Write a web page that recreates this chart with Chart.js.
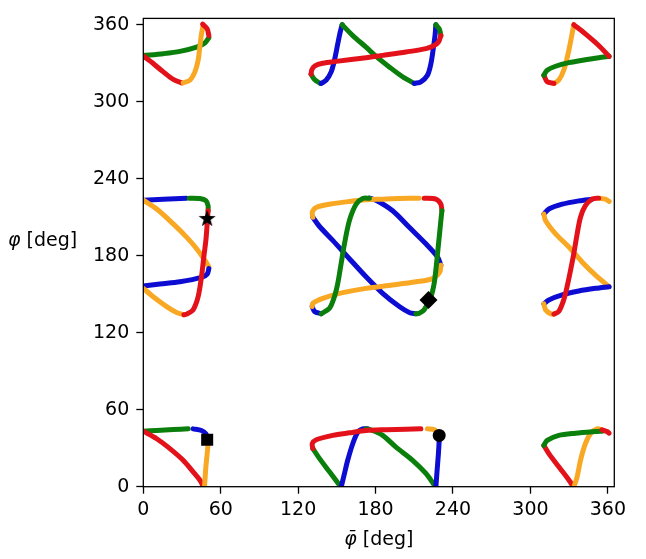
<!DOCTYPE html>
<html lang="en">
<head>
  <meta charset="UTF-8" />
  <title>phi vs phi-bar</title>
  <script src="https://cdn.jsdelivr.net/npm/chart.js"></script>
  <style>
    html, body { margin: 0; padding: 0; background: #fff; }
    canvas { display: block; }
  </style>
</head>
<body>
  <canvas id="chart" width="646" height="559"></canvas>

  <script>
    // ticks and labels
    const xTicks = [0, 60, 120, 180, 240, 300, 360];
    const yTicks = [0, 60, 120, 180, 240, 300, 360];
    const xSymbol = 'φ\u0304';
    const ySymbol = 'φ';
    const unit = ' [deg]';

    // traced curve pieces, [phiBar, phi] in degrees
    // top row
    const tlGreen = [[0,336],[15.5,337.5],[28.4,339.3],[41.3,342.6],[47.7,345.8],[50.8,350]];
    const tlRedTop = [[46,360.5],[49.5,356.8],[50.8,351.6]];
    const tlRed = [[0,335.7],[7.7,329.8],[15.5,323.3],[23.2,317.4],[29.7,314.8]];
    const tlOrange = [[30.9,314.8],[36.1,316.8],[40,323.3],[42.5,332.3],[43.8,342.7],[45.1,352.9],[46.4,360]];

    const tmGreenA = [[130,321.5],[132.7,317.4],[137.1,314.3]];
    const tmBlueA = [[137.9,314.3],[141.7,316.8],[145.6,323.3],[148.1,332.3],[150.7,345.2],[152.5,353.9],[154.1,360.1]];
    const tmRed = [[130,321.5],[130.6,325],[133,328],[139,330],[149.5,331.5],[172.6,334.4],[185.5,336.2],[203.6,338.8],[219,341.4],[225.4,343.9],[228.7,346.5],[230.6,351.6]];
    const tmGreenB = [[230.6,351.6],[229.5,356.5],[226.7,360.1]];
    const tmGreenC = [[154.1,360.1],[162.3,351.6],[172.6,342.6],[180.4,335.4],[190.6,327.2],[200.9,319.5],[210,314.3]];
    const tmBlueB = [[210,314.3],[215.1,315.6],[220.2,320.7],[222.9,329.8],[224.9,342.7],[226.2,352.9],[226.7,360.1]];

    const trOrange = [[333.6,360.1],[331.8,350.4],[329.2,337.5],[325.8,324.6],[322,316.9],[318.2,314.3]];
    const trRedA = [[318.2,314.3],[313,315.6],[310.4,320.7]];
    const trGreen = [[310.4,320.7],[313,324.6],[319.5,327.7],[329.8,330.5],[342.6,332.8],[352.9,334.4],[361,335.4]];
    const trRedB = [[333.6,360.1],[342.6,352.9],[352.9,343.9],[361,335.4]];

    // middle row
    const mlBlueA = [[0,223.3],[15.5,224.1],[33.5,224.9]];
    const mlGreen = [[35.5,224.9],[43.8,224.6],[48.5,222.9],[50.2,219],[50.2,215.1]];
    const mlRed = [[50.2,215.1],[49.5,204.8],[48.5,192],[46.9,179.1],[45.1,163.6],[42.5,148.1],[38.6,137.9],[33.5,134.5],[31.5,134]];
    const mlOrangeA = [[0,223.3],[10.4,216.4],[23.2,204.8],[33.5,194.5],[41.3,185.5],[47.7,176.5],[50.8,171.3]];
    const mlBlueB = [[50.8,170],[49.5,165.7],[45.1,163.1],[28.4,159.7],[12.9,158],[0,156.4]];
    const mlOrangeB = [[0,154.6],[7.7,148.1],[18.1,140.4],[25.8,135.8],[31.5,134]];

    const mcOrangeA = [[131.4,210],[130.9,213.8],[134,217.7],[144.3,220.2],[159.7,222.3],[172.6,223.6],[185.5,224.1],[198.4,224.6],[213.8,224.9]];
    const mcRed = [[217.7,224.9],[226.7,224.1],[230.6,220.2],[231.4,215.1]];
    const mcGreenA = [[231.4,215.1],[230.6,207.4],[229.3,194.5],[228,181.6],[226.7,168.8],[225.4,158.4],[222.9,148.1],[217.7,137.9],[213.8,135.2],[211.3,134.8]];
    const mcBlueA = [[131.4,210],[136.6,202.8],[146.8,192],[159.7,177.7],[172.6,163.6],[185.5,150.7],[198.4,140.4],[206.1,135.8],[211.3,134.8]];
    const mcBlueB = [[175.2,224.9],[180.4,223.3],[193.2,215.1],[206.1,202.2],[219,189.3],[228,179.1],[230.6,172.6]];
    const mcOrangeB = [[230.6,172.6],[229.8,167.4],[224.1,162.2],[211.3,159.7],[193.2,157.2],[172.6,154.6],[152,150.7],[139.1,146.8],[131.4,143],[130.9,140.4]];
    const mcBlueC = [[130.9,140.4],[132.7,136.6],[137.9,134.8]];
    const mcGreenB = [[137.9,134.8],[144.3,139.1],[148.1,148.1],[150.7,158.4],[153.3,173.9],[155.9,189.3],[159.7,207.4],[164.9,220.2],[170,224.6],[175.2,224.9]];

    const mrBlueA = [[310.4,212.5],[314.3,216.4],[324.6,220.2],[337.5,222.8],[347.8,224.1]];
    const mrRed = [[318.2,134.5],[322,136.6],[325.8,145.6],[328.4,155.9],[331.1,168.8],[333.6,181.6],[336.2,197],[338.8,210],[342.6,219],[347.8,224.1],[352.9,224.9]];
    const mrOrangeA = [[352.9,224.9],[358.1,224.1],[361,222.3]];
    const mrOrangeB = [[310.4,212.5],[311.7,207.4],[319.5,197],[329.8,186.8],[340,175.2],[350.4,164.9],[361,155.9]];
    const mrBlueB = [[361,155.9],[350.4,154.6],[337.5,152.5],[324.6,149.5],[314.3,145.6],[310.4,142.5]];
    const mrOrangeC = [[310.4,142.5],[311.7,137.9],[315.6,134.8],[318.2,134.5]];

    // bottom row
    const blGreen = [[0,43.3],[10.4,43.8],[23.2,44.6],[34.8,45.1]];
    const blBlue = [[38.6,45.1],[45.1,43.8],[48.5,41.3],[49.5,38]];
    const blOrange = [[49.5,38],[50.2,34.8],[49.5,25.8],[48.5,15.5],[47.4,-0.5]];
    const blRed = [[0,43.3],[10.4,37.4],[20.6,29.7],[30.9,20.6],[38.6,11.6],[43.8,5.2],[46.9,-0.5]];

    const bmRed = [[131.4,29.7],[130.9,33.5],[134,36.6],[146.8,40],[159.7,42],[172.6,43.8],[188.1,44.4],[203.6,44.8],[215.1,45.1]];
    const bmOrange = [[220.2,45.1],[225.4,44.4],[228,42.5]];
    const bmBlueA = [[229.3,38],[229.3,36.1],[228.7,25.8],[227.7,12.9],[226.7,-0.5]];
    const bmGreenA = [[226.7,-0.5],[219,10.3],[208.7,20.6],[195.8,30.9],[185.5,40],[177.7,43.8],[172.6,45.1]];
    const bmBlueB = [[153.3,-0.5],[155.9,10.3],[158.4,20.6],[162.3,33.5],[166.2,42.5],[170,45.1],[173.9,45.1]];
    const bmGreenB = [[131.4,29.7],[136.6,21.9],[144.3,11.6],[153.3,-0.5]];

    const brGreen = [[310.4,32.2],[313,36.1],[322,40],[334.9,41.7],[350.4,43],[355.5,43.3]];
    const brRed = [[355.5,44.4],[359.4,43],[361,41.7]];
    const brOrange = [[333.6,-0.5],[336.2,7.7],[338.8,20.6],[342.6,33.5],[346.5,41.3],[351.6,45.1],[355.5,44.4]];
    const brRedB = [[310.4,32.2],[314.3,25.8],[322,15.5],[329.8,5.2],[333.6,-0.5]];

    // black markers
    const starPt = [[49.5, 208.7]];
    const diamondPt = [[221, 145.6]];
    const squarePt = [[49.5, 36.6]];
    const circlePt = [[229.3, 40]];

    const COLORS = {
      blue: '#0c0cd2',
      green: '#0b7f0b',
      orange: '#f9a824',
      red: '#e3121a'
    };

    const pieces = [
      [tlGreen, 'green'], [tlRed, 'red'], [tlOrange, 'orange'], [tlRedTop, 'red'],
      [tmGreenA, 'green'], [tmBlueA, 'blue'], [tmGreenC, 'green'], [tmBlueB, 'blue'], [tmGreenB, 'green'], [tmRed, 'red'],
      [trOrange, 'orange'], [trRedA, 'red'], [trGreen, 'green'], [trRedB, 'red'],
      [mlBlueA, 'blue'], [mlOrangeA, 'orange'], [mlBlueB, 'blue'], [mlOrangeB, 'orange'], [mlGreen, 'green'], [mlRed, 'red'],
      [mcBlueA, 'blue'], [mcBlueB, 'blue'], [mcBlueC, 'blue'], [mcOrangeA, 'orange'], [mcOrangeB, 'orange'], [mcGreenB, 'green'], [mcRed, 'red'], [mcGreenA, 'green'],
      [mrBlueA, 'blue'], [mrOrangeB, 'orange'], [mrBlueB, 'blue'], [mrOrangeC, 'orange'], [mrOrangeA, 'orange'], [mrRed, 'red'],
      [blGreen, 'green'], [blBlue, 'blue'], [blRed, 'red'], [blOrange, 'orange'],
      [bmGreenB, 'green'], [bmBlueB, 'blue'], [bmGreenA, 'green'], [bmBlueA, 'blue'], [bmRed, 'red'], [bmOrange, 'orange'],
      [brRedB, 'red'], [brOrange, 'orange'], [brGreen, 'green'], [brRed, 'red']
    ];

    const toXY = pts => pts.map(([x, y]) => ({ x, y }));

    // filled star for the marker
    function makeStar(r) {
      const c = document.createElement('canvas');
      c.width = c.height = 2 * r + 2;
      const g = c.getContext('2d');
      g.translate(r + 1, r + 1);
      g.beginPath();
      for (let i = 0; i < 10; i++) {
        const rad = i % 2 === 0 ? r : r * 0.4;
        const a = -Math.PI / 2 + i * Math.PI / 5;
        g.lineTo(rad * Math.cos(a), rad * Math.sin(a));
      }
      g.closePath();
      g.fillStyle = '#000';
      g.fill();
      return c;
    }

    // later pieces drawn on top (like matplotlib)
    const datasets = pieces.map(([pts, col], i) => ({
      data: toXY(pts),
      showLine: true,
      borderColor: COLORS[col],
      borderWidth: 5,
      borderCapStyle: 'round',
      borderJoinStyle: 'round',
      pointRadius: 0,
      tension: 0.3,
      order: pieces.length - i + 10
    }));

    const marker = (pts, style, radius) => ({
      data: toXY(pts),
      showLine: false,
      pointStyle: style,
      pointRadius: radius,
      backgroundColor: '#000',
      borderColor: '#000',
      borderWidth: 0,
      order: 0
    });
    datasets.push(marker(starPt, makeStar(9), 9));
    datasets.push(marker(diamondPt, 'rectRot', 9));
    datasets.push(marker(squarePt, 'rect', 8.5));
    datasets.push(marker(circlePt, 'circle', 6.5));

    const frameAndTitles = {
      id: 'frameAndTitles',
      afterDraw(chart) {
        const { ctx, chartArea: a } = chart;
        ctx.save();
        ctx.strokeStyle = '#000';
        ctx.lineWidth = 1.3;
        ctx.strokeRect(a.left, a.top, a.right - a.left, a.bottom - a.top);

        ctx.fillStyle = '#000';
        ctx.textBaseline = 'middle';
        ctx.textAlign = 'left';

        // y title, horizontal
        ctx.font = 'italic 19px "DejaVu Sans"';
        const wy = ctx.measureText(ySymbol).width;
        ctx.fillText(ySymbol, 8, 241);
        ctx.font = '19px "DejaVu Sans"';
        ctx.fillText(unit, 8 + wy, 241);

        // x title, centred under the axis
        ctx.font = 'italic 19px "DejaVu Sans"';
        const wx = ctx.measureText(xSymbol).width;
        ctx.font = '19px "DejaVu Sans"';
        const wu = ctx.measureText(unit).width;
        const x0 = (a.left + a.right) / 2 - (wx + wu) / 2;
        ctx.font = 'italic 19px "DejaVu Sans"';
        ctx.fillText(xSymbol, x0, 540);
        ctx.font = '19px "DejaVu Sans"';
        ctx.fillText(unit, x0 + wx, 540);
        ctx.restore();
      }
    };

    const axisCommon = (ticks) => ({
      type: 'linear',
      min: 0,
      max: 365,
      afterBuildTicks: s => { s.ticks = ticks.map(v => ({ value: v })); },
      grid: {
        drawOnChartArea: false,
        drawTicks: true,
        tickLength: 7,
        tickWidth: 1.3,
        tickColor: '#000'
      },
      border: { display: false },
      ticks: {
        color: '#000',
        font: { family: 'DejaVu Sans', size: 19 },
        autoSkip: false,
        maxRotation: 0,
        callback: v => String(v)
      }
    });

    const xAxis = axisCommon(xTicks);
    xAxis.ticks.padding = 5;
    xAxis.afterFit = s => { s.height = 72.3; };
    const yAxis = axisCommon(yTicks);
    yAxis.ticks.padding = 7;
    yAxis.afterFit = s => { s.width = 143.3; };

    new Chart(document.getElementById('chart'), {
      type: 'scatter',
      data: { datasets },
      options: {
        responsive: false,
        animation: false,
        layout: { padding: { left: 0, right: 31.7, top: 15, bottom: 0 } },
        plugins: { legend: { display: false }, tooltip: { enabled: false } },
        scales: { x: xAxis, y: yAxis }
      },
      plugins: [frameAndTitles]
    });
  </script>
</body>
</html>
